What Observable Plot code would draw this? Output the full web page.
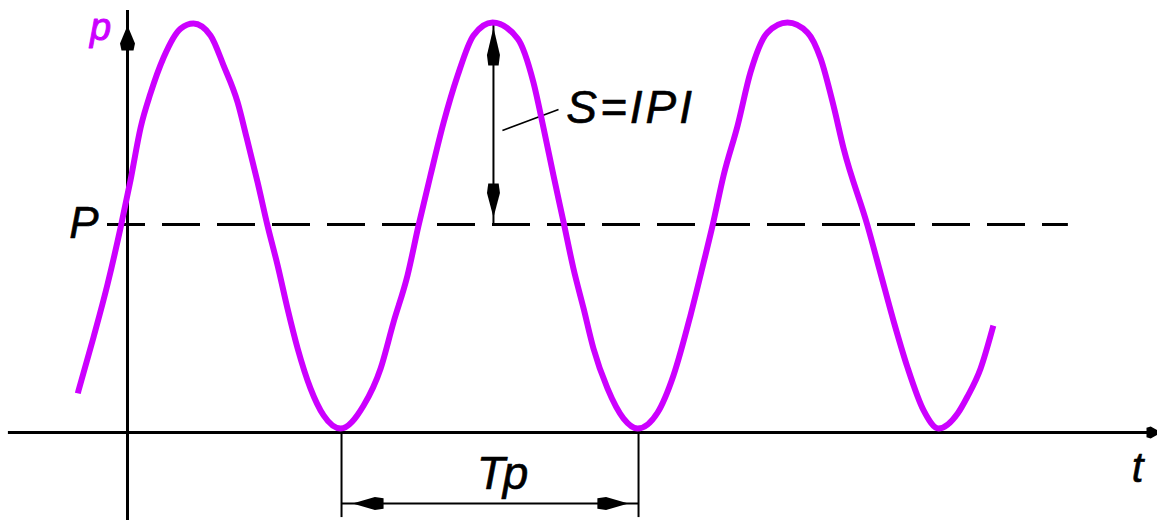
<!DOCTYPE html>
<html>
<head>
<meta charset="utf-8">
<script src="https://cdn.jsdelivr.net/npm/d3@7"></script>
<script src="https://cdn.jsdelivr.net/npm/@observablehq/plot@0.6"></script>
<style>
  html, body { margin: 0; padding: 0; background: #fff; }
  #chart svg { display: block; }
</style>
</head>
<body>
<div id="chart"></div>
<script>
// ---- data (t in periods, p in units of the mean P) ----
const curveT = [
  -0.164, -0.114, -0.067, -0.023, 0.010, 0.044, 0.077, 0.121, 0.178, 0.221,
  0.278, 0.322, 0.369, 0.399, 0.436, 0.469, 0.503, 0.536, 0.570, 0.613, 0.657, 0.714,
  0.791, 0.848, 0.891, 0.938, 0.975, 1.015, 1.059, 1.106, 1.159, 1.223,
  1.307, 1.360, 1.394, 1.427, 1.461, 1.494, 1.528, 1.561, 1.608, 1.662, 1.709,
  1.776, 1.829, 1.886, 1.930, 1.960, 1.997, 2.044, 2.087, 2.144, 2.211,
  2.278, 2.322, 2.365, 2.399, 2.479, 2.523, 2.566, 2.613, 2.667, 2.717,
  2.781, 2.814, 2.858, 2.898
];
const curveP = [
  0.202, 0.457, 0.712, 0.986, 1.212, 1.466, 1.630, 1.803, 1.942, 1.966,
  1.909, 1.764, 1.587, 1.418, 1.202, 0.995, 0.803, 0.596, 0.404, 0.212, 0.082, 0.019,
  0.130, 0.308, 0.529, 0.755, 0.995, 1.236, 1.490, 1.716, 1.909, 1.971,
  1.894, 1.683, 1.462, 1.236, 1.010, 0.788, 0.596, 0.404, 0.212, 0.067, 0.019,
  0.096, 0.274, 0.563, 0.817, 0.995, 1.236, 1.476, 1.731, 1.923, 1.971,
  1.923, 1.798, 1.572, 1.365, 0.995, 0.764, 0.538, 0.313, 0.106, 0.019,
  0.091, 0.173, 0.308, 0.500
];
const meanP = 1;               // level of the dashed line P
const meanLineT = [-0.067, 3.152];
const axisT = [-0.399, 3.420]; // extent of the t axis
const axisP = [-0.423, 2.029]; // extent of the p axis
const amplitudeT = 1.226;      // where S is measured
const amplitudeTop = 1.957;
const periodT = [0.717, 1.712]; // troughs bounding Tp
const periodDimP = -0.341;
const periodExtP = -0.409;
const leaderT = [1.256, 1.444];
const leaderP = [1.452, 1.553];

const sLabel  = {text: "S=IPI", t: 1.470, p: 1.486};
const PLabel  = {text: "P", t: -0.097, p: 0.933};
const tLabel  = {text: "t", t: 3.384, p: -0.240};
const TpLabel = {text: "Tp", t: 1.253, p: -0.274};
const pLabel  = {text: "p", t: -0.090, p: 1.885};

// ---- build ----
const curve = curveT.map((t, i) => ({t, p: curveP[i]}));

function head(L, w) {
  return {
    draw(ctx) {
      ctx.moveTo(0, 0);
      ctx.lineTo(w, 0.72 * L);
      ctx.lineTo(0.8 * w, L);
      ctx.lineTo(-0.8 * w, L);
      ctx.lineTo(-w, 0.72 * L);
      ctx.closePath();
    }
  };
}

const purple = "#cc00ff";
const font = "Liberation Sans, Arial, sans-serif";
const textOpts = {x: "t", y: "p", text: "text", lineAnchor: "bottom", fontStyle: "italic", fontFamily: font, fill: "black", stroke: "black", strokeWidth: 0.6};

const chart = Plot.plot({
  width: 1157,
  height: 520,
  margin: 0,
  x: {domain: [-127 / 298.5, 1030 / 298.5], axis: null},
  y: {domain: [-88 / 208, 432 / 208], axis: null},
  style: {background: "#fff"},
  marks: [
    // dashed mean line
    Plot.ruleY([meanP], {x1: meanLineT[0], x2: meanLineT[1], stroke: "black", strokeWidth: 3, strokeDasharray: "38,17"}),
    // axes
    Plot.ruleY([0], {x1: axisT[0], x2: axisT[1], stroke: "black", strokeWidth: 3}),
    Plot.ruleX([0], {y1: axisP[0], y2: axisP[1], stroke: "black", strokeWidth: 3}),
    Plot.dot([{t: 0, p: 1.957}], {x: "t", y: "p", symbol: head(25, 7.5), rotate: 0, fill: "black", stroke: "none"}),
    Plot.dot([{t: 3.464, p: 0}], {x: "t", y: "p", symbol: head(15, 6), rotate: 90, fill: "black", stroke: "none"}),
    // S dimension
    Plot.ruleX([amplitudeT], {y1: meanP, y2: amplitudeTop, stroke: "black", strokeWidth: 2}),
    Plot.dot([{t: amplitudeT, p: 1.947}], {x: "t", y: "p", symbol: head(38, 6.5), rotate: 0, fill: "black", stroke: "none"}),
    Plot.dot([{t: amplitudeT, p: 1.034}], {x: "t", y: "p", symbol: head(34, 6.5), rotate: 180, fill: "black", stroke: "none"}),
    Plot.link([0], {x1: () => leaderT[0], y1: () => leaderP[0], x2: () => leaderT[1], y2: () => leaderP[1], stroke: "black", strokeWidth: 1.6}),
    // Tp dimension
    Plot.ruleX(periodT, {y1: 0, y2: periodExtP, stroke: "black", strokeWidth: 2}),
    Plot.ruleY([periodDimP], {x1: periodT[0], x2: periodT[1], stroke: "black", strokeWidth: 2}),
    Plot.dot([{t: 0.754, p: periodDimP}], {x: "t", y: "p", symbol: head(31, 6.5), rotate: -90, fill: "black", stroke: "none"}),
    Plot.dot([{t: 1.678, p: periodDimP}], {x: "t", y: "p", symbol: head(31, 6.5), rotate: 90, fill: "black", stroke: "none"}),
    // the curve
    Plot.line(curve, {x: "t", y: "p", stroke: purple, strokeWidth: 6, curve: "monotone-x", strokeLinecap: "square", strokeLinejoin: "round"}),
    // labels
    Plot.text([sLabel], {...textOpts, textAnchor: "start", fontSize: 46}),
    Plot.text([PLabel], {...textOpts, textAnchor: "end", fontSize: 44}),
    Plot.text([tLabel], {...textOpts, textAnchor: "middle", fontSize: 42}),
    Plot.text([TpLabel], {...textOpts, textAnchor: "middle", fontSize: 46}),
    Plot.text([pLabel], {...textOpts, textAnchor: "middle", fontSize: 38, fill: purple, stroke: purple, strokeWidth: 1})
  ]
});
d3.select(chart).selectAll("text").each(function () {
  const s = this.textContent;
  if (s === "S=IPI") this.setAttribute("letter-spacing", "3");
  if (s === "Tp") this.setAttribute("letter-spacing", "-2");
});
document.getElementById("chart").appendChild(chart);
</script>
</body>
</html>
